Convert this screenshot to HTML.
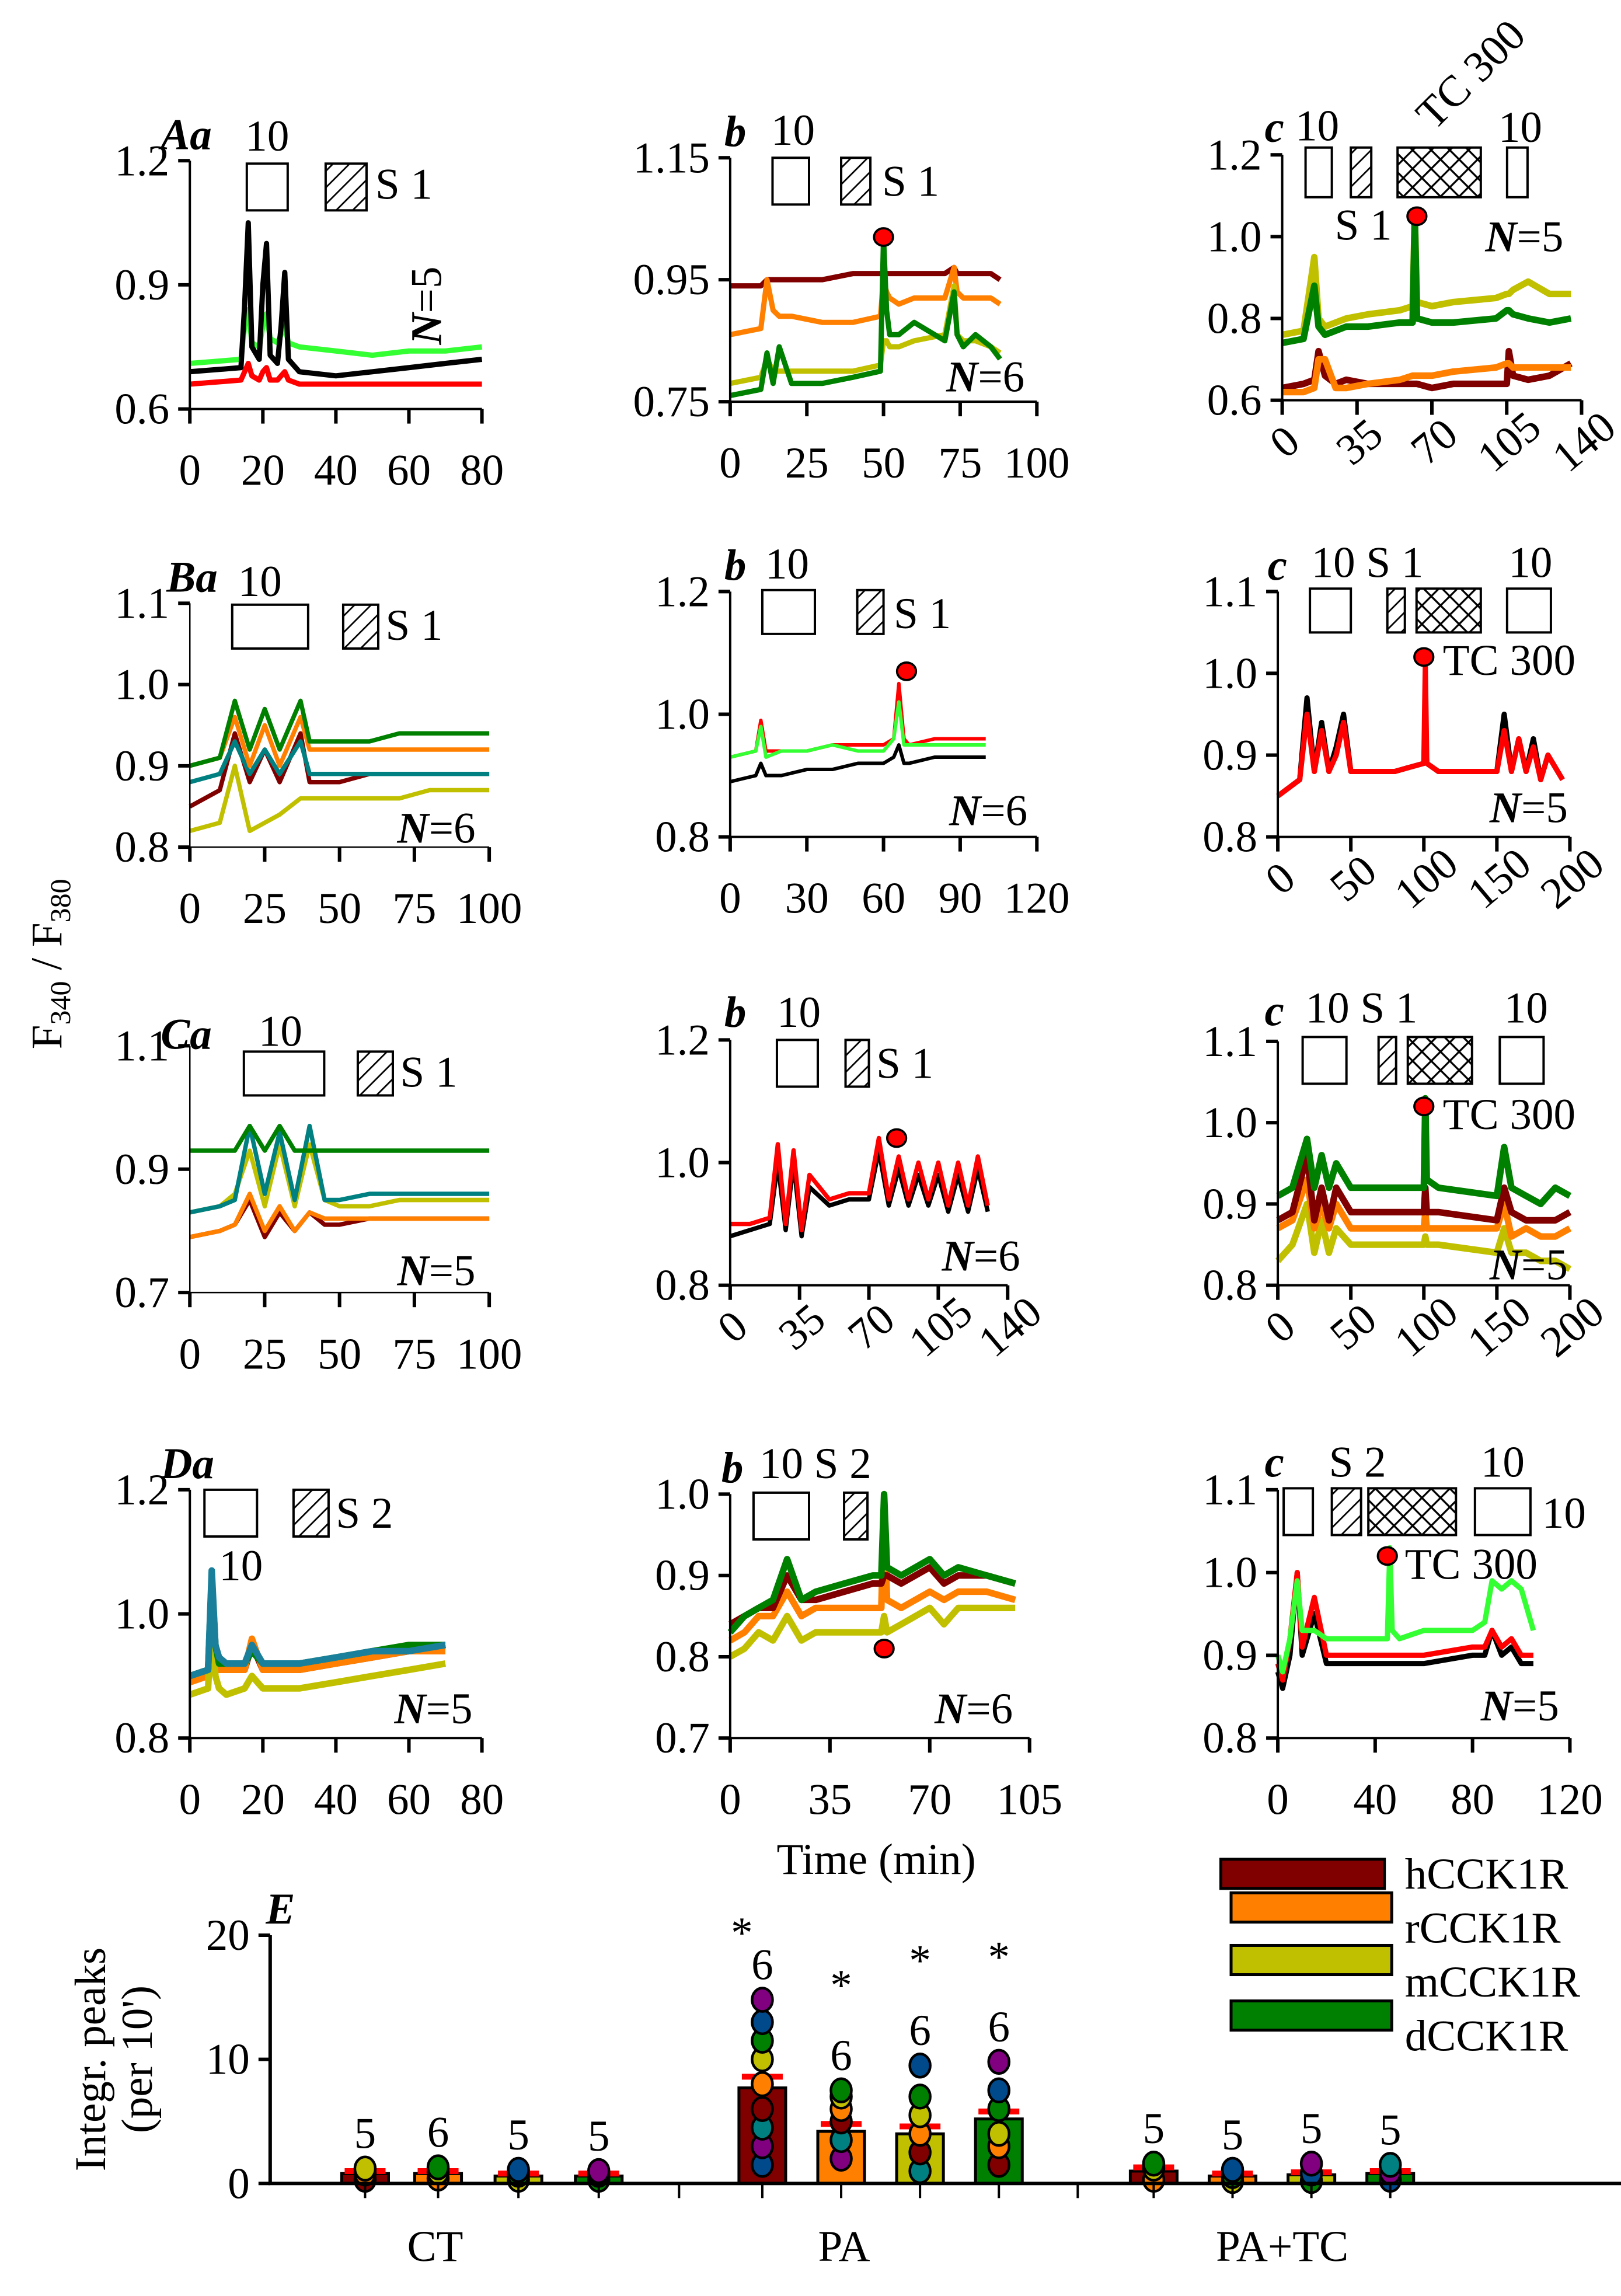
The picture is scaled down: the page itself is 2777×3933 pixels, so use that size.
<!DOCTYPE html>
<html><head><meta charset="utf-8"><style>
html,body{margin:0;padding:0;background:#fff}
svg{display:block}
text{font-family:"Liberation Serif",serif;fill:#000}
</style></head><body>
<svg id="fig" width="2777" height="3933" viewBox="0 0 1110 1572" xmlns="http://www.w3.org/2000/svg">
<defs>
<pattern id="hatch" width="8" height="8" patternUnits="userSpaceOnUse" patternTransform="rotate(45)"><line x1="0" y1="0" x2="0" y2="8" stroke="#000" stroke-width="2.2"/></pattern>
<pattern id="cross" width="9" height="9" patternUnits="userSpaceOnUse" patternTransform="rotate(45)"><rect width="9" height="9" fill="#fff"/><line x1="0" y1="0" x2="0" y2="9" stroke="#000" stroke-width="2.6"/><line x1="0" y1="0" x2="9" y2="0" stroke="#000" stroke-width="2.6"/></pattern>
</defs>
<g id="panels"></g>
<text transform="translate(42,660) rotate(-90)" font-size="30" text-anchor="middle">F<tspan font-size="20" dy="6">340</tspan><tspan dy="-6"> / F</tspan><tspan font-size="20" dy="6">380</tspan></text>
<text x="600" y="1283" font-size="30" text-anchor="middle">Time (min)</text>
<g id="panelE"></g>
</svg>
<script>
// ---------- data ----------
const AaT=[0,14,15,16,17,19,20,21,22,24,25,26,27,30,40,50,60,70,80];
const AaBlack=[0.69,0.70,0.85,1.05,0.75,0.72,0.9,1.0,0.73,0.71,0.8,0.93,0.72,0.69,0.68,0.69,0.7,0.71,0.72];
const AaGreen=[0.71,0.72,0.8,0.84,0.76,0.75,0.8,0.83,0.77,0.76,0.78,0.8,0.76,0.75,0.74,0.73,0.74,0.74,0.75];
const AaRed=[0.66,0.67,0.69,0.71,0.68,0.67,0.69,0.7,0.67,0.67,0.68,0.69,0.67,0.66,0.66,0.66,0.66,0.66,0.66];

const AbT=[0,10,12,14,16,20,30,40,49,50,51,52,55,60,70,73,74,76,80,85,88];
const AbH=[0.94,0.94,0.95,0.95,0.95,0.95,0.95,0.96,0.96,0.96,0.96,0.96,0.96,0.96,0.96,0.97,0.96,0.96,0.96,0.96,0.95];
const AbR=[0.86,0.87,0.95,0.9,0.89,0.89,0.88,0.88,0.89,0.95,0.93,0.92,0.91,0.92,0.92,0.97,0.93,0.92,0.92,0.92,0.91];
const AbM=[0.78,0.79,0.82,0.8,0.8,0.8,0.8,0.8,0.81,0.85,0.85,0.84,0.84,0.85,0.86,0.94,0.86,0.85,0.85,0.84,0.83];
const AbD=[0.76,0.77,0.83,0.78,0.84,0.78,0.78,0.79,0.8,1.02,0.9,0.86,0.86,0.88,0.85,0.93,0.86,0.84,0.86,0.84,0.82];

const AcT=[0,10,15,17,20,25,30,40,55,61,62,63,70,80,100,105,106,108,115,125,135];
const AcH=[0.63,0.64,0.65,0.72,0.66,0.64,0.65,0.64,0.64,0.64,0.64,0.64,0.63,0.64,0.64,0.64,0.72,0.66,0.65,0.66,0.69];
const AcR=[0.62,0.62,0.63,0.7,0.7,0.63,0.63,0.64,0.65,0.66,0.66,0.66,0.66,0.67,0.68,0.69,0.69,0.68,0.68,0.68,0.68];
const AcM=[0.76,0.77,0.95,0.8,0.78,0.79,0.8,0.81,0.82,0.83,1.05,0.84,0.83,0.84,0.85,0.86,0.86,0.87,0.89,0.86,0.86];
const AcD=[0.74,0.75,0.88,0.78,0.76,0.77,0.78,0.78,0.79,0.79,1.05,0.8,0.79,0.79,0.8,0.82,0.82,0.81,0.8,0.79,0.8];

const BaT=[0,10,15,20,25,30,37,40,50,60,70,80,90,100];
const BaH=[0.85,0.87,0.94,0.88,0.92,0.88,0.94,0.88,0.88,0.89,0.89,0.89,0.89,0.89];
const BaR=[0.9,0.91,0.96,0.9,0.95,0.9,0.96,0.92,0.92,0.92,0.92,0.92,0.92,0.92];
const BaM=[0.82,0.83,0.9,0.82,0.83,0.84,0.86,0.86,0.86,0.86,0.86,0.87,0.87,0.87];
const BaT2=[0.88,0.89,0.93,0.89,0.92,0.89,0.93,0.89,0.89,0.89,0.89,0.89,0.89,0.89];
const BaD=[0.9,0.91,0.98,0.92,0.97,0.92,0.98,0.93,0.93,0.93,0.94,0.94,0.94,0.94];

const BbT=[0,10,12,14,20,30,40,50,60,64,66,68,70,80,90,100];
const BbBlack=[0.89,0.9,0.92,0.9,0.9,0.91,0.91,0.92,0.92,0.93,0.95,0.92,0.92,0.93,0.93,0.93];
const BbRed=[0.93,0.94,0.99,0.94,0.94,0.94,0.95,0.95,0.95,0.96,1.05,0.96,0.95,0.96,0.96,0.96];
const BbGreen=[0.93,0.94,0.98,0.93,0.94,0.94,0.95,0.94,0.94,0.96,1.02,0.95,0.95,0.95,0.95,0.95];

const BcT=[0,15,20,25,30,35,40,45,50,80,100,101,102,110,150,155,160,165,170,175,180,185,195];
const BcBlack=[0.85,0.87,0.97,0.88,0.94,0.88,0.91,0.95,0.88,0.88,0.89,0.95,0.89,0.88,0.88,0.95,0.88,0.92,0.88,0.92,0.87,0.9,0.87];
const BcRed=[0.85,0.87,0.95,0.88,0.93,0.88,0.9,0.94,0.88,0.88,0.89,1.01,0.89,0.88,0.88,0.93,0.88,0.92,0.88,0.91,0.87,0.9,0.87];

const CaT=[0,10,15,20,25,30,35,40,45,50,60,70,80,90,100];
const CaD=[0.93,0.93,0.93,0.97,0.93,0.97,0.93,0.93,0.93,0.93,0.93,0.93,0.93,0.93,0.93];
const CaT2=[0.83,0.84,0.85,0.97,0.86,0.96,0.85,0.97,0.85,0.85,0.86,0.86,0.86,0.86,0.86];
const CaM=[0.83,0.84,0.86,0.93,0.84,0.94,0.84,0.94,0.85,0.84,0.84,0.85,0.85,0.85,0.85];
const CaR=[0.79,0.8,0.81,0.86,0.8,0.84,0.8,0.83,0.82,0.82,0.82,0.82,0.82,0.82,0.82];
const CaH=[0.79,0.8,0.81,0.85,0.79,0.83,0.8,0.83,0.81,0.81,0.82,0.82,0.82,0.82,0.82];

const CbT=[0,10,20,24,28,32,36,40,50,60,70,75,80,85,90,95,100,105,110,115,120,125,130];
const CbBlack=[0.88,0.89,0.9,1.0,0.89,1.0,0.88,0.96,0.93,0.94,0.94,1.02,0.93,0.99,0.93,0.98,0.93,0.98,0.92,0.98,0.92,0.99,0.92];
const CbRed=[0.9,0.9,0.91,1.03,0.9,1.02,0.89,0.98,0.94,0.95,0.95,1.04,0.94,1.01,0.94,1.0,0.94,1.0,0.93,1.0,0.93,1.01,0.93];

const CcT=[0,10,20,25,30,35,40,50,80,100,101,102,110,150,155,160,170,180,190,200];
const CcD=[0.91,0.92,0.98,0.92,0.96,0.92,0.95,0.92,0.92,0.92,1.03,0.93,0.92,0.91,0.97,0.92,0.91,0.9,0.92,0.91];
const CcH=[0.88,0.89,0.96,0.88,0.92,0.88,0.92,0.89,0.89,0.89,0.92,0.89,0.89,0.88,0.92,0.89,0.88,0.88,0.88,0.89];
const CcR=[0.87,0.88,0.93,0.87,0.9,0.87,0.9,0.87,0.87,0.87,0.89,0.87,0.87,0.87,0.9,0.86,0.87,0.86,0.86,0.87];
const CcM=[0.83,0.85,0.9,0.84,0.88,0.84,0.87,0.85,0.85,0.85,0.86,0.85,0.85,0.84,0.87,0.84,0.84,0.83,0.83,0.82];

const DaT=[0,5,6,7,8,10,15,17,20,30,40,50,60,70];
const DaH=[0.9,0.91,1.0,0.93,0.92,0.91,0.91,0.95,0.91,0.91,0.92,0.93,0.94,0.95];
const DaR=[0.89,0.9,1.02,0.93,0.91,0.91,0.91,0.96,0.91,0.91,0.92,0.93,0.94,0.94];
const DaM=[0.87,0.88,1.0,0.9,0.88,0.87,0.88,0.9,0.88,0.88,0.89,0.9,0.91,0.92];
const DaD=[0.9,0.91,1.06,0.95,0.92,0.92,0.92,0.94,0.92,0.92,0.93,0.94,0.95,0.95];
const DaT2=[0.9,0.91,1.07,0.95,0.93,0.92,0.92,0.95,0.92,0.92,0.93,0.94,0.94,0.95];

const DbT=[0,5,10,15,20,25,30,40,50,53,54,55,60,70,75,80,90,100];
const DbD=[0.83,0.85,0.86,0.87,0.92,0.87,0.88,0.89,0.9,0.9,1.0,0.91,0.9,0.92,0.9,0.91,0.9,0.89];
const DbH=[0.84,0.85,0.86,0.86,0.9,0.87,0.87,0.88,0.89,0.89,0.9,0.9,0.89,0.91,0.89,0.9,0.9,0.89];
const DbR=[0.82,0.83,0.85,0.85,0.88,0.85,0.86,0.86,0.86,0.86,0.99,0.87,0.86,0.88,0.87,0.88,0.88,0.87];
const DbM=[0.8,0.81,0.83,0.82,0.85,0.82,0.83,0.83,0.83,0.83,0.85,0.83,0.84,0.86,0.84,0.86,0.86,0.86];

const DcT=[0,2,5,8,10,15,20,40,45,46,47,50,60,80,85,88,92,96,100,105];
const DcBlack=[0.88,0.86,0.9,1.0,0.9,0.95,0.89,0.89,0.89,0.89,0.89,0.89,0.89,0.9,0.9,0.93,0.9,0.91,0.89,0.89];
const DcRed=[0.89,0.87,0.92,1.0,0.91,0.97,0.9,0.9,0.9,0.9,0.9,0.9,0.9,0.91,0.91,0.93,0.91,0.92,0.9,0.9];
const DcGreen=[0.9,0.88,0.92,0.99,0.93,0.93,0.92,0.92,0.92,1.03,0.93,0.92,0.93,0.93,0.94,0.99,0.98,0.99,0.98,0.93];

// Panel E data
const eGroups=["CT","PA","PA+TC"];
const eMeans=[0.8,0.8,0.6,0.6, 7.7,4.2,4.0,5.2, 1.0,0.6,0.7,0.8];
const eSem=[0.2,0.2,0.2,0.2, 0.9,0.6,0.6,0.6, 0.3,0.2,0.2,0.2];
const eN=["5","6","5","5","6","6","6","6","5","5","5","5"];
const eStar=[false,false,false,false,true,true,true,true,false,false,false,false];
const ePts=[[0.3,0.8,1.2],[0.4,0.9,1.3],[0.3,0.7,1.1],[0.3,0.7,1.0],
 [1.5,3,4.5,6,8,10,11.5,13,14.8],[2,3.5,5,6,7,7.5],[1,2.5,4,5.5,7,9.5],[1.5,3,4,6,7.5,9.8],
 [0.3,1.2,1.6],[0.2,0.6,1.1],[0.2,0.8,1.6],[0.3,0.9,1.5]];
const eYTicks=[0,10,20];
const eLegend=["hCCK1R","rCCK1R","mCCK1R","dCCK1R"];

// ---------- rendering ----------
const NS="http://www.w3.org/2000/svg";
const C={H:"#800000",R:"#ff8000",M:"#c0c000",D:"#008000",T:"#008080",K:"#000",Rd:"#ff0000",G:"#33ff33"};
const FS=30;
function mk(tag,at,parent){const e=document.createElementNS(NS,tag);for(const k in at)e.setAttribute(k,at[k]);parent.appendChild(e);return e;}
const root=document.getElementById('panels');

function panel(p){
  const g=mk('g',{},root);
  
  
  const sx=v=>p.x0+(v-p.xmin)/(p.xmax-p.xmin)*(p.x1-p.x0);
  const sy=v=>p.y1-(v-p.ymin)/(p.ymax-p.ymin)*(p.y1-p.y0);
  p.series.forEach(s=>{
    const d=s.v.map((v,i)=>(i?'L':'M')+sx(s.t[i]).toFixed(1)+' '+sy(v).toFixed(1)).join(' ');
    const l=mk('path',{d:d,fill:'none',stroke:s.c,'stroke-width':p.sw||3.6,'stroke-linejoin':'round'},g);
    
    
  });
  const ax=mk('path',{d:`M${p.x0} ${p.y0} L${p.x0} ${p.y1} L${p.x1} ${p.y1}`,fill:'none',stroke:'#000','stroke-width':p.aw||1.6},g);
  
  
  p.yt.forEach((v,i)=>{
    mk('line',{x1:p.x0-8,x2:p.x0,y1:sy(v),y2:sy(v),stroke:'#000','stroke-width':2.4},g);
    const t=mk('text',{x:p.x0-14,y:sy(v)+10,'font-size':FS,'text-anchor':'end'},g);
    t.textContent=p.ytl[i];
    
    
  });
  p.xt.forEach(v=>{
    mk('line',{x1:sx(v),x2:sx(v),y1:p.y1,y2:p.y1+10,stroke:'#000','stroke-width':2.4},g);
    let t;
    if(p.rot){t=mk('text',{transform:`translate(${sx(v)+8},${p.y1+36}) rotate(-40)`,'font-size':FS,'text-anchor':'middle'},g);}
    else{t=mk('text',{x:sx(v),y:p.y1+52,'font-size':FS,'text-anchor':'middle'},g);}
    t.textContent=String(v);
    
    
  });
  (p.dots||[]).forEach(dd=>{
    const c=mk('ellipse',{cx:sx(dd[0]),cy:sy(dd[1]),rx:6.5,ry:6,fill:'#ff0000',stroke:'#000','stroke-width':1.5},g);
    
    
  });
  (p.boxes||[]).forEach(b=>{
    const r=mk('rect',{x:b[0],y:b[1],width:b[2],height:b[3],fill:b[4]==='h'?'url(#hatch)':b[4]==='x'?'url(#cross)':'#fff',stroke:'#000','stroke-width':1.6},g);
    
    
  });
  (p.texts||[]).forEach(tt=>{
    const t=mk('text',{x:tt[0],y:tt[1],'font-size':tt[3]||FS},g);
    if(tt[4])t.setAttribute('transform',`rotate(${tt[4]} ${tt[0]} ${tt[1]})`);
    if(tt[5])t.setAttribute('font-weight','bold'),t.setAttribute('font-style','italic');
    t.innerHTML=tt[2];
    
    
  });
}
const NN=n=>`<tspan font-weight="bold" font-style="italic">N</tspan>=${n}`;

panel({id:'Aa',x0:130,x1:330,xmin:0,xmax:80,y0:110,y1:280,ymin:0.6,ymax:1.2,xt:[0,20,40,60,80],yt:[0.6,0.9,1.2],ytl:['0.6','0.9','1.2'],
 series:[{n:'green',t:AaT,v:AaGreen,c:C.G},{n:'black',t:AaT,v:AaBlack,c:C.K},{n:'red',t:AaT,v:AaRed,c:C.Rd}],
 boxes:[[169,112,28,32],[223,112,28,32,'h']],
 texts:[[110,102,'Aa',FS,0,1],[168,103,'10'],[257,136,'S 1'],[302,236,NN(5),FS,-90]]});
panel({id:'Ab',x0:500,x1:710,xmin:0,xmax:100,y0:108,y1:275,ymin:0.75,ymax:1.15,xt:[0,25,50,75,100],yt:[0.75,0.95,1.15],ytl:['0.75','0.95','1.15'],
 series:[{n:'h',t:AbT,v:AbH,c:C.H},{n:'r',t:AbT,v:AbR,c:C.R},{n:'m',t:AbT,v:AbM,c:C.M},{n:'d',t:AbT,v:AbD,c:C.D}],
 dots:[[50,1.02]],boxes:[[529,108,25,32],[576,108,20,32,'h']],
 texts:[[496,100,'b',FS,0,1],[528,99,'10'],[604,134,'S 1'],[648,268,NN(6)]]});
panel({id:'Ac',x0:878,x1:1083,xmin:0,xmax:140,y0:106,y1:274,ymin:0.6,ymax:1.2,xt:[0,35,70,105,140],yt:[0.6,0.8,1.0,1.2],ytl:['0.6','0.8','1.0','1.2'],rot:true,sw:4.5,
 series:[{n:'h',t:AcT,v:AcH,c:C.H},{n:'r',t:AcT,v:AcR,c:C.R},{n:'m',t:AcT,v:AcM,c:C.M},{n:'d',t:AcT,v:AcD,c:C.D}],
 dots:[[63,1.05]],boxes:[[894,101,18,34],[925,101,14,34,'h'],[957,101,57,34,'x'],[1032,101,14,34]],
 texts:[[866,97,'c',FS,0,1],[887,96,'10'],[914,164,'S 1'],[1017,172,NN(5)],[982,90,'TC 300',FS,-45],[1026,97,'10']]});

panel({id:'Ba',x0:130,x1:335,xmin:0,xmax:100,y0:413,y1:580,ymin:0.8,ymax:1.1,xt:[0,25,50,75,100],yt:[0.8,0.9,1.0,1.1],ytl:['0.8','0.9','1.0','1.1'],sw:3,aw:1,
 series:[{n:'m',t:BaT,v:BaM,c:C.M},{n:'h',t:BaT,v:BaH,c:C.H},{n:'t',t:BaT,v:BaT2,c:C.T},{n:'r',t:BaT,v:BaR,c:C.R},{n:'d',t:BaT,v:BaD,c:C.D}],
 boxes:[[159,414,52,30],[235,414,24,30,'h']],
 texts:[[114,405,'Ba',FS,0,1],[163,408,'10'],[264,438,'S 1'],[272,577,NN(6)]]});
panel({id:'Bb',x0:500,x1:710,xmin:0,xmax:120,y0:405,y1:573,ymin:0.8,ymax:1.2,xt:[0,30,60,90,120],yt:[0.8,1.0,1.2],ytl:['0.8','1.0','1.2'],sw:2.4,
 series:[{n:'black',t:BbT,v:BbBlack,c:C.K},{n:'red',t:BbT,v:BbRed,c:C.Rd},{n:'green',t:BbT,v:BbGreen,c:C.G}],
 dots:[[69,1.07]],boxes:[[522,404,36,30],[587,404,18,30,'h']],
 texts:[[496,397,'b',FS,0,1],[524,396,'10'],[612,430,'S 1'],[650,565,NN(6)]]});
panel({id:'Bc',x0:875,x1:1075,xmin:0,xmax:200,y0:405,y1:573,ymin:0.8,ymax:1.1,xt:[0,50,100,150,200],yt:[0.8,0.9,1.0,1.1],ytl:['0.8','0.9','1.0','1.1'],rot:true,
 series:[{n:'black',t:BcT,v:BcBlack,c:C.K},{n:'red',t:BcT,v:BcRed,c:C.Rd}],
 dots:[[100,1.02]],boxes:[[897,403,28,30],[950,403,12,30,'h'],[970,403,44,30,'x'],[1032,403,30,30]],
 texts:[[868,397,'c',FS,0,1],[898,395,'10 S 1'],[1033,395,'10'],[988,462,'TC 300'],[1020,563,NN(5)]]});

panel({id:'Ca',x0:130,x1:335,xmin:0,xmax:100,y0:716,y1:885,ymin:0.7,ymax:1.1,xt:[0,25,50,75,100],yt:[0.7,0.9,1.1],ytl:['0.7','0.9','1.1'],sw:3,aw:1,
 series:[{n:'h',t:CaT,v:CaH,c:C.H},{n:'r',t:CaT,v:CaR,c:C.R},{n:'m',t:CaT,v:CaM,c:C.M},{n:'t',t:CaT,v:CaT2,c:C.T},{n:'d',t:CaT,v:CaD,c:C.D}],
 boxes:[[167,720,55,30],[245,720,24,30,'h']],
 texts:[[110,718,'Ca',FS,0,1],[177,716,'10'],[274,744,'S 1'],[272,880,NN(5)]]});
panel({id:'Cb',x0:500,x1:690,xmin:0,xmax:140,y0:712,y1:880,ymin:0.8,ymax:1.2,xt:[0,35,70,105,140],yt:[0.8,1.0,1.2],ytl:['0.8','1.0','1.2'],rot:true,sw:3,
 series:[{n:'black',t:CbT,v:CbBlack,c:C.K},{n:'red',t:CbT,v:CbRed,c:C.Rd}],
 dots:[[84,1.04]],boxes:[[532,712,28,32],[579,712,16,32,'h']],
 texts:[[496,703,'b',FS,0,1],[532,703,'10'],[600,738,'S 1'],[645,870,NN(6)]]});
panel({id:'Cc',x0:875,x1:1075,xmin:0,xmax:200,y0:713,y1:880,ymin:0.8,ymax:1.1,xt:[0,50,100,150,200],yt:[0.8,0.9,1.0,1.1],ytl:['0.8','0.9','1.0','1.1'],rot:true,sw:4.5,
 series:[{n:'m',t:CcT,v:CcM,c:C.M},{n:'r',t:CcT,v:CcR,c:C.R},{n:'h',t:CcT,v:CcH,c:C.H},{n:'d',t:CcT,v:CcD,c:C.D}],
 dots:[[100,1.02]],boxes:[[892,710,30,32],[944,710,12,32,'h'],[964,710,44,32,'x'],[1027,710,30,32]],
 texts:[[866,702,'c',FS,0,1],[894,700,'10 S 1'],[1030,700,'10'],[988,773,'TC 300'],[1020,876,NN(5)]]});

panel({id:'Da',x0:130,x1:330,xmin:0,xmax:80,y0:1020,y1:1190,ymin:0.8,ymax:1.2,xt:[0,20,40,60,80],yt:[0.8,1.0,1.2],ytl:['0.8','1.0','1.2'],sw:4.5,
 series:[{n:'h',t:DaT,v:DaH,c:C.H},{n:'r',t:DaT,v:DaR,c:C.R},{n:'m',t:DaT,v:DaM,c:C.M},{n:'d',t:DaT,v:DaD,c:C.D},{n:'t',t:DaT,v:DaT2,c:"#1a7f9a"}],
 boxes:[[140,1020,36,32],[201,1020,24,32,'h']],
 texts:[[110,1012,'Da',FS,0,1],[230,1046,'S 2'],[150,1082,'10'],[270,1180,NN(5)]]});
panel({id:'Db',x0:500,x1:705,xmin:0,xmax:105,y0:1023,y1:1190,ymin:0.7,ymax:1.0,xt:[0,35,70,105],yt:[0.7,0.8,0.9,1.0],ytl:['0.7','0.8','0.9','1.0'],sw:4.5,
 series:[{n:'m',t:DbT,v:DbM,c:C.M},{n:'r',t:DbT,v:DbR,c:C.R},{n:'h',t:DbT,v:DbH,c:C.H},{n:'d',t:DbT,v:DbD,c:C.D}],
 dots:[[54,0.81]],boxes:[[516,1022,38,32],[578,1022,16,32,'h']],
 texts:[[494,1015,'b',FS,0,1],[520,1012,'10 S 2'],[640,1180,NN(6)]]});
panel({id:'Dc',x0:875,x1:1075,xmin:0,xmax:120,y0:1020,y1:1190,ymin:0.8,ymax:1.1,xt:[0,40,80,120],yt:[0.8,0.9,1.0,1.1],ytl:['0.8','0.9','1.0','1.1'],
 series:[{n:'black',t:DcT,v:DcBlack,c:C.K},{n:'red',t:DcT,v:DcRed,c:C.Rd},{n:'green',t:DcT,v:DcGreen,c:C.G}],
 dots:[[45,1.02]],boxes:[[879,1019,20,32],[912,1019,20,32,'h'],[937,1019,60,32,'x'],[1010,1019,38,32]],
 texts:[[866,1011,'c',FS,0,1],[910,1011,'S 2'],[1014,1011,'10'],[1056,1046,'10'],[962,1081,'TC 300'],[1014,1178,NN(5)]]});

// ---------- Panel E ----------
(function(){
  const g=document.getElementById('panelE');
  const x0=185,x1=1110,y0=1325,y1=1495,ymax=20;
  const sy=v=>y1-v/ymax*(y1-y0);
  const barX=[250,300,355,410,522,576,630,684,790,844,898,952];
  const bw=32;
  const colors=[C.H,C.R,C.M,C.D];
  const ptColors=["#800000","#ff8000","#c0c000","#008000","#004a8c","#800080","#008080"];
  eMeans.forEach((m,i)=>{
    const r=mk('rect',{x:barX[i]-bw/2,y:sy(m),width:bw,height:y1-sy(m),fill:colors[i%4],stroke:'#000','stroke-width':2},g);
    
    
    mk('line',{x1:barX[i]-14,x2:barX[i]+14,y1:sy(m+eSem[i]),y2:sy(m+eSem[i]),stroke:'#ff0000','stroke-width':4},g);
    ePts[i].forEach((v,j)=>{
      const c=mk('ellipse',{cx:barX[i],cy:sy(v),rx:7,ry:8,fill:ptColors[(i+j)%7],stroke:'#000','stroke-width':1.8},g);
      
      
    });
    const top=Math.max(m+eSem[i],...ePts[i]);
    const t=mk('text',{x:barX[i],y:sy(top)-14,'font-size':FS,'text-anchor':'middle'},g);
    t.textContent=eN[i];
    
    
    if(eStar[i]){
      const s=mk('text',{x:barX[i]-(i===4?14:0),y:i===4?sy(top)-36:sy(top)-62,'font-size':FS,'text-anchor':'middle'},g);
      s.textContent='*';
      
      
    }
    mk('line',{x1:barX[i],x2:barX[i],y1:y1,y2:y1+10,stroke:'#000','stroke-width':1.6},g);
  });
  [465,738].forEach(x=>mk('line',{x1:x,x2:x,y1:y1,y2:y1+10,stroke:'#000','stroke-width':1.6},g));
  const ax=mk('path',{d:`M${x0} ${y0} L${x0} ${y1} L${x1} ${y1}`,fill:'none',stroke:'#000','stroke-width':2.4},g);
  
  
  eYTicks.forEach(v=>{
    mk('line',{x1:x0-8,x2:x0,y1:sy(v),y2:sy(v),stroke:'#000','stroke-width':2.4},g);
    const t=mk('text',{x:x0-14,y:sy(v)+10,'font-size':FS,'text-anchor':'end'},g);
    t.textContent=String(v);
    
    
  });
  const gx=[298,578,878];
  eGroups.forEach((n,i)=>{
    const t=mk('text',{x:gx[i],y:1548,'font-size':FS,'text-anchor':'middle'},g);
    t.textContent=n;
    
    
  });
  const lt=mk('text',{x:182,y:1317,'font-size':FS,'font-weight':'bold','font-style':'italic'},g);
  lt.textContent='E';
  
  
  const yl=mk('text',{transform:'translate(72,1410) rotate(-90)','font-size':FS,'text-anchor':'middle'},g);
  yl.textContent='Integr. peaks';
  
  
  const yl2=mk('text',{transform:'translate(104,1410) rotate(-90)','font-size':FS,'text-anchor':'middle'},g);
  yl2.textContent="(per 10')";
  
  
  const lb=[[836,1273,112],[843,1296,110],[843,1332,110],[843,1370,110]];
  const ly=[1293,1330,1367,1404];
  eLegend.forEach((n,i)=>{
    const r=mk('rect',{x:lb[i][0],y:lb[i][1],width:lb[i][2],height:20,fill:colors[i],stroke:'#000','stroke-width':2},g);
    
    
    const t=mk('text',{x:962,y:ly[i],'font-size':FS},g);
    t.textContent=n;
    
    
  });
})();
</script>
</body></html>
